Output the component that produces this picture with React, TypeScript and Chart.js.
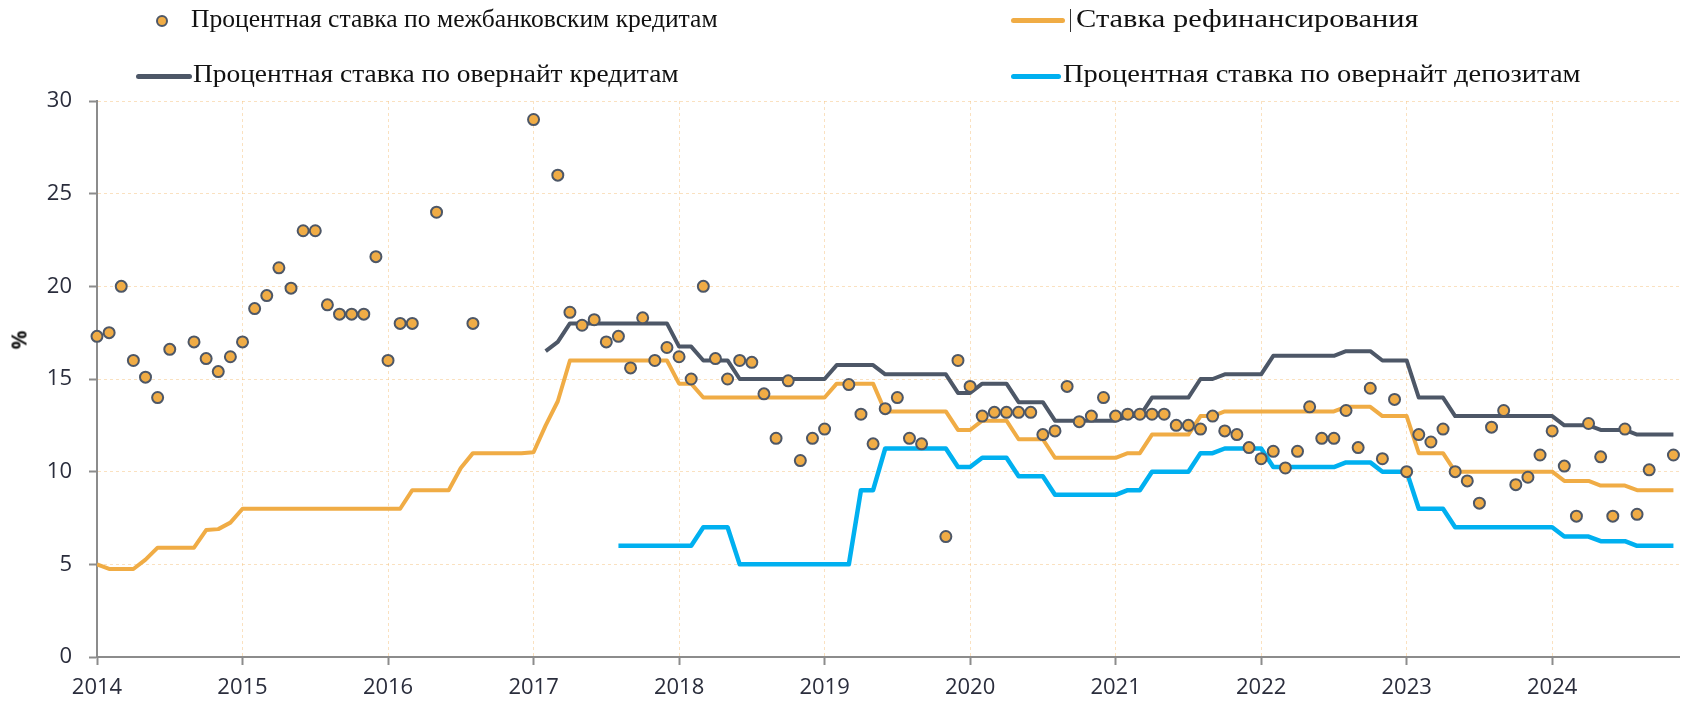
import React, { useEffect, useLayoutEffect, useRef } from 'react';
import { Chart, registerables } from 'chart.js';

Chart.register(...registerables);

// Monthly observations, January 2014 = index 0 ... November 2024 = index 130
const yearLabels = ['2014', '2015', '2016', '2017', '2018', '2019', '2020', '2021', '2022', '2023', '2024'];

const interbank: (number | null)[] = [
  17.3, 17.5, 20.0, 16.0, 15.1, 14.0, 16.6, null, 17.0, 16.1, 15.4, 16.2,
  17.0, 18.8, 19.5, 21.0, 19.9, 23.0, 23.0, 19.0, 18.5, 18.5, 18.5, 21.6,
  16.0, 18.0, 18.0, null, 24.0, null, null, 18.0, null, null, null, null,
  29.0, null, 26.0, 18.6, 17.9, 18.2, 17.0, 17.3, 15.6, 18.3, 16.0, 16.7,
  16.2, 15.0, 20.0, 16.1, 15.0, 16.0, 15.9, 14.2, 11.8, 14.9, 10.6, 11.8,
  12.3, null, 14.7, 13.1, 11.5, 13.4, 14.0, 11.8, 11.5, null, 6.5, 16.0,
  14.6, 13.0, 13.2, 13.2, 13.2, 13.2, 12.0, 12.2, 14.6, 12.7, 13.0, 14.0,
  13.0, 13.1, 13.1, 13.1, 13.1, 12.5, 12.5, 12.3, 13.0, 12.2, 12.0, 11.3,
  10.7, 11.1, 10.2, 11.1, 13.5, 11.8, 11.8, 13.3, 11.3, 14.5, 10.7, 13.9,
  10.0, 12.0, 11.6, 12.3, 10.0, 9.5, 8.3, 12.4, 13.3, 9.3, 9.7, 10.9,
  12.2, 10.3, 7.6, 12.6, 10.8, 7.6, 12.3, 7.7, 10.1, null, 10.9,
];

const refinancing: (number | null)[] = [
  5.0, 4.75, 4.75, 4.75, 5.25, 5.9, 5.9, 5.9, 5.9, 6.85, 6.9, 7.25,
  8, 8, 8, 8, 8, 8, 8, 8, 8, 8, 8, 8,
  8, 8, 9, 9, 9, 9, 10.2, 11, 11, 11, 11, 11,
  11.05, 12.5, 13.8, 16, 16, 16, 16, 16, 16, 16, 16, 16,
  14.75, 14.75, 14, 14, 14, 14, 14, 14, 14, 14, 14, 14,
  14, 14.75, 14.75, 14.75, 14.75, 13.25, 13.25, 13.25, 13.25, 13.25, 13.25, 12.25,
  12.25, 12.75, 12.75, 12.75, 11.75, 11.75, 11.75, 10.75, 10.75, 10.75, 10.75, 10.75,
  10.75, 11, 11, 12, 12, 12, 12, 13, 13, 13.25, 13.25, 13.25,
  13.25, 13.25, 13.25, 13.25, 13.25, 13.25, 13.25, 13.5, 13.5, 13.5, 13, 13,
  13, 11, 11, 11, 10, 10, 10, 10, 10, 10, 10, 10,
  10, 9.5, 9.5, 9.5, 9.25, 9.25, 9.25, 9, 9, 9, 9,
];

const overnightCredit: (number | null)[] = [
  null, null, null, null, null, null, null, null, null, null, null, null,
  null, null, null, null, null, null, null, null, null, null, null, null,
  null, null, null, null, null, null, null, null, null, null, null, null,
  null, 16.5, 17, 18, 18, 18, 18, 18, 18, 18, 18, 18,
  16.75, 16.75, 16, 16, 16, 15, 15, 15, 15, 15, 15, 15,
  15, 15.75, 15.75, 15.75, 15.75, 15.25, 15.25, 15.25, 15.25, 15.25, 15.25, 14.25,
  14.25, 14.75, 14.75, 14.75, 13.75, 13.75, 13.75, 12.75, 12.75, 12.75, 12.75, 12.75,
  12.75, 13, 13, 14, 14, 14, 14, 15, 15, 15.25, 15.25, 15.25,
  15.25, 16.25, 16.25, 16.25, 16.25, 16.25, 16.25, 16.5, 16.5, 16.5, 16, 16,
  16, 14, 14, 14, 13, 13, 13, 13, 13, 13, 13, 13,
  13, 12.5, 12.5, 12.5, 12.25, 12.25, 12.25, 12, 12, 12, 12,
];

const overnightDeposit: (number | null)[] = [
  null, null, null, null, null, null, null, null, null, null, null, null,
  null, null, null, null, null, null, null, null, null, null, null, null,
  null, null, null, null, null, null, null, null, null, null, null, null,
  null, null, null, null, null, null, null, 6, 6, 6, 6, 6,
  6, 6, 7, 7, 7, 5, 5, 5, 5, 5, 5, 5,
  5, 5, 5, 9, 9, 11.25, 11.25, 11.25, 11.25, 11.25, 11.25, 10.25,
  10.25, 10.75, 10.75, 10.75, 9.75, 9.75, 9.75, 8.75, 8.75, 8.75, 8.75, 8.75,
  8.75, 9, 9, 10, 10, 10, 10, 11, 11, 11.25, 11.25, 11.25,
  11.25, 10.25, 10.25, 10.25, 10.25, 10.25, 10.25, 10.5, 10.5, 10.5, 10, 10,
  10, 8, 8, 8, 7, 7, 7, 7, 7, 7, 7, 7,
  7, 6.5, 6.5, 6.5, 6.25, 6.25, 6.25, 6, 6, 6, 6,
];

const legendLabels = [
  'Процентная ставка по межбанковским кредитам',
  'Ставка рефинансирования',
  'Процентная ставка по овернайт кредитам',
  'Процентная ставка по овернайт депозитам',
];

const ORANGE = '#F0AC45';
const DARK = '#4D5767';
const BLUE = '#00B0F0';
const AXIS = '#8C8C8C';
const GRID = 'rgba(246, 196, 130, 0.5)';
const TICK_TEXT = '#2A2D3C';

const toPoints = (arr: (number | null)[]) => arr.map((v, i) => ({ x: i, y: v }));

export default function App() {
  const canvasRef = useRef<HTMLCanvasElement | null>(null);
  const textRefs = useRef<(HTMLDivElement | null)[]>([]);
  // legend text box widths as in the picture
  const legendWidths = [527, 342, 486, 518];

  useLayoutEffect(() => {
    const fit = () => {
      textRefs.current.forEach((el, k) => {
        if (!el) return;
        el.style.transform = 'none';
        const w = el.scrollWidth;
        if (w > 0) el.style.transform = `scaleX(${legendWidths[k] / w})`;
      });
    };
    fit();
    const fonts: any = (document as any).fonts;
    if (fonts && fonts.ready) fonts.ready.then(fit);
  }, []);

  useEffect(() => {
    if (!canvasRef.current) return;
    const tickFont = { family: '"Open Sans", sans-serif', size: 22 };
    const chart = new Chart(canvasRef.current, {
      type: 'line',
      data: {
        datasets: [
          {
            label: legendLabels[0],
            data: toPoints(interbank) as any,
            showLine: false,
            pointRadius: 5.5,
            pointHoverRadius: 5.5,
            pointBorderWidth: 2,
            pointBackgroundColor: ORANGE,
            pointBorderColor: DARK,
            clip: false as any,
          },
          {
            label: legendLabels[1],
            data: toPoints(refinancing) as any,
            borderColor: ORANGE,
            borderWidth: 4,
            pointRadius: 0,
            tension: 0,
            borderJoinStyle: 'round',
          },
          {
            label: legendLabels[2],
            data: toPoints(overnightCredit) as any,
            borderColor: DARK,
            borderWidth: 4,
            pointRadius: 0,
            tension: 0,
            borderJoinStyle: 'round',
          },
          {
            label: legendLabels[3],
            data: toPoints(overnightDeposit) as any,
            borderColor: BLUE,
            borderWidth: 4.5,
            pointRadius: 0,
            tension: 0,
            borderJoinStyle: 'round',
          },
        ],
      },
      options: {
        animation: false,
        responsive: false,
        devicePixelRatio: 1,
        events: [],
        layout: { padding: { top: 101, left: 0, right: 0, bottom: 0 } },
        plugins: { legend: { display: false }, tooltip: { enabled: false }, title: { display: false } },
        scales: {
          x: {
            type: 'linear',
            min: 0,
            max: 130.5,
            afterBuildTicks: (s: any) => {
              s.ticks = yearLabels.map((_, k) => ({ value: k * 12 }));
            },
            afterFit: (s: any) => {
              s.height = 47;
            },
            ticks: {
              autoSkip: false,
              maxRotation: 0,
              padding: 10,
              font: tickFont,
              color: TICK_TEXT,
              callback: (v: any) => yearLabels[Math.round(Number(v) / 12)] ?? '',
            },
            grid: {
              color: GRID,
              lineWidth: 1,
              tickLength: 8,
              tickColor: AXIS,
              tickWidth: 2,
              tickBorderDash: [],
            },
            border: { color: AXIS, width: 2, dash: [3, 3] },
          },
          y: {
            type: 'linear',
            min: 0,
            max: 30,
            afterFit: (s: any) => {
              s.width = 97;
            },
            ticks: {
              stepSize: 5,
              padding: 17,
              font: tickFont,
              color: TICK_TEXT,
            },
            grid: {
              color: GRID,
              lineWidth: 1,
              tickLength: 8,
              tickColor: AXIS,
              tickWidth: 2,
              tickBorderDash: [],
            },
            border: { color: AXIS, width: 2, dash: [3, 3] },
          },
        },
      } as any,
    });
    return () => chart.destroy();
  }, []);

  const serif = '"Liberation Serif", "Times New Roman", serif';
  const textStyle = (left: number, top: number): React.CSSProperties => ({
    position: 'absolute',
    left,
    top,
    fontFamily: serif,
    fontSize: 26,
    lineHeight: '26px',
    color: '#111',
    whiteSpace: 'nowrap',
    transformOrigin: 'left center',
  });
  const lineStyle = (left: number, top: number, width: number, color: string): React.CSSProperties => ({
    position: 'absolute',
    left,
    top: top - 2.5,
    width,
    height: 5,
    borderRadius: 2.5,
    background: color,
  });

  return (
    <div style={{ position: 'absolute', left: 0, top: 0, width: 1687, height: 704, background: '#fff', overflow: 'hidden' }}>
      <canvas ref={canvasRef} width={1687} height={704} style={{ position: 'absolute', left: 0, top: 0 }} />
      {/* legend row 1 */}
      <div
        style={{
          position: 'absolute',
          left: 155.5,
          top: 14.5,
          width: 8,
          height: 8,
          borderRadius: '50%',
          background: ORANGE,
          border: `2px solid ${DARK}`,
        }}
      />
      <div ref={(el) => { textRefs.current[0] = el; }} style={textStyle(191, 6)}>{legendLabels[0]}</div>
      <div style={lineStyle(1011, 20.5, 54, ORANGE)} />
      <div style={{ position: 'absolute', left: 1070, top: 9, width: 1, height: 23, background: '#333' }} />
      <div ref={(el) => { textRefs.current[1] = el; }} style={textStyle(1076, 6)}>{legendLabels[1]}</div>
      {/* legend row 2 */}
      <div style={lineStyle(136, 76.5, 56, DARK)} />
      <div ref={(el) => { textRefs.current[2] = el; }} style={textStyle(193, 61)}>{legendLabels[2]}</div>
      <div style={lineStyle(1011, 76.5, 50, BLUE)} />
      <div ref={(el) => { textRefs.current[3] = el; }} style={textStyle(1063, 61)}>{legendLabels[3]}</div>
      {/* y axis title */}
      <div
        style={{
          position: 'absolute',
          left: 19,
          top: 340,
          transform: 'translate(-50%, -50%) rotate(-90deg)',
          fontFamily: '"Open Sans", sans-serif',
          fontWeight: 700,
          fontSize: 21,
          color: '#1a1a1a',
          lineHeight: '21px',
        }}
      >
        %
      </div>
    </div>
  );
}
